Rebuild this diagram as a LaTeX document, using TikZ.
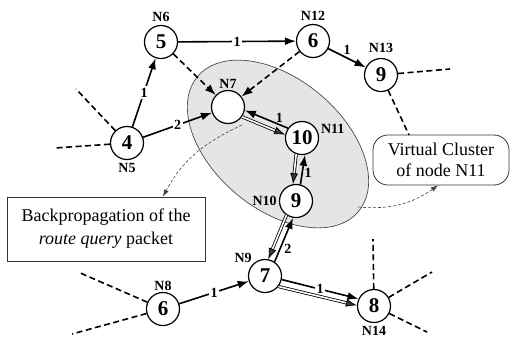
\documentclass[tikz,border=0pt]{standalone}
\usepackage{fontspec}
\setmainfont{Liberation Serif}
\usetikzlibrary{arrows.meta,calc}
\begin{document}
\begin{tikzpicture}[x=1pt,y=1pt,
  nd/.style={circle,draw,line width=1.2pt,fill=white,minimum size=33pt,inner sep=0pt,
    font=\fontsize{21}{21}\selectfont\bfseries},
  lab/.style={font=\fontsize{14}{14}\selectfont\bfseries,inner sep=1pt},
  elab/.style={font=\fontsize{14}{14}\selectfont\bfseries,fill=white,inner sep=1.5pt},
  slab/.style={font=\fontsize{14}{14}\selectfont\bfseries,inner sep=1.5pt},
  fwd/.style={line width=1.6pt,-{Latex[length=11pt,width=8pt]}},
  dfwd/.style={line width=1.6pt,dash pattern=on 6pt off 3.5pt,-{Latex[length=11pt,width=8pt]}},
  bwd/.style={draw=black,line width=0.8pt,double=white,double distance=1.6pt,
    -{Latex[length=11pt,width=8pt,fill=gray!45!black]}},
  stub/.style={line width=1.6pt,dash pattern=on 6pt off 3.5pt},
  hint/.style={draw=gray!50!black,line width=0.6pt,dash pattern=on 3pt off 2pt,
    -{Latex[length=7pt,width=5pt]}},
  infobox/.style={draw=black!80,line width=0.8pt,fill=white,align=center,
    font=\fontsize{18}{23}\selectfont}
]
\useasboundingbox (0,0) rectangle (511,-341);

% virtual cluster region
\draw[draw=gray!60!black,line width=0.7pt,fill=gray!20,rotate around={-40:(278,-144)}]
  (278,-144) ellipse [x radius=105pt, y radius=65pt];

% routers
\node[nd,label={[lab,label distance=2pt]90:N6}]  (n6)  at (161,-42)  {5};
\node[nd,label={[lab,label distance=2pt]90:N12}] (n12) at (313,-41)  {6};
\node[nd,label={[lab,label distance=4pt]90:N13}] (n13) at (381,-75)  {9};
\node[nd,label={[lab]90:N7}]                     (n7)  at (228,-107) {};
\node[nd,label={[lab,label distance=1pt]10:N11}] (n11) at (302,-138) {10};
\node[nd,label={[lab,label distance=2pt]-90:N5}] (n5)  at (127,-143) {4};
\node[nd,label={[lab,label distance=1pt]180:N10}](n10) at (296,-201) {9};
\node[nd,label={[lab]135:N9}]                    (n9)  at (265,-276) {7};
\node[nd,label={[lab]90:N8}]                     (n8)  at (163,-309) {6};
\node[nd,label={[lab,label distance=2pt]-90:N14}](n14) at (374,-306) {8};

% text boxes
\node[infobox,minimum width=198pt,minimum height=64pt] (bp) at (106,-229)
  {Backpropagation of the\\\textit{route query} packet};
\node[infobox,rounded corners=15pt,minimum width=136pt,minimum height=50pt,
  font=\fontsize{18}{21}\selectfont] (vc) at (441,-160)
  {Virtual Cluster\\of node N11};

% forward route query path
\draw[fwd] (n6) -- node[elab]{1} (n12);
\draw[fwd] (n12) -- node[slab,pos=0.5,above=1pt]{1} (n13);
\draw[fwd] (n5) -- node[elab]{1} (n6);
\draw[fwd] (n5) -- node[elab]{2} (n7);
\draw[dfwd] (n6) -- (n7);
\draw[dfwd] (n12) -- (n7);
\draw[fwd] (n8) -- node[elab]{1} (n9);

% paired links inside and near the cluster
\draw[fwd] (n11.145) -- node[slab,pos=0.2,above]{1} (n7.-11);
\draw[bwd] (n7.-35) -- (n11.169);
\draw[fwd] (n10.75) -- node[slab,pos=0.4,right]{1} (n11.-80);
\draw[bwd] (n11.-110) -- (n10.100);
\draw[fwd] (n9.56) -- node[slab,pos=0.3,right=2pt]{2} (n10.-100);
\draw[bwd] (n10.-124) -- (n9.79);
\draw[fwd] (n9.-12) -- node[elab]{1} (n14.155);
\draw[bwd] (n9.-38) -- (n14.178);

% links leading out of the picture
\coordinate (s5a) at (55,-148);
\coordinate (s5b) at (76,-89);
\coordinate (s13a) at (450,-69);
\coordinate (s13b) at (409,-135);
\coordinate (s14a) at (373,-239);
\coordinate (s14b) at (432,-272);
\coordinate (s14c) at (427,-332);
\coordinate (s8a) at (78,-272);
\coordinate (s8b) at (72,-334);
\draw[stub] (n5) -- (s5a);
\draw[stub] (n5) -- (s5b);
\draw[stub] (n13) -- (s13a);
\draw[stub] (n13) -- (s13b);
\draw[stub] (n14) -- (s14a);
\draw[stub] (n14) -- (s14b);
\draw[stub] (n14) -- (s14c);
\draw[stub] (n8) -- (s8a);
\draw[stub] (n8) -- (s8b);

% pointers to the explanatory boxes
\coordinate (c1) at (242,-125);
\coordinate (c2) at (358,-207);
\draw[hint] (c1) to[out=205,in=62] ([xshift=57pt]bp.north);
\draw[hint] (c2) to[out=-5,in=215] ([xshift=-3pt]vc.south);
\end{tikzpicture}
\end{document}
